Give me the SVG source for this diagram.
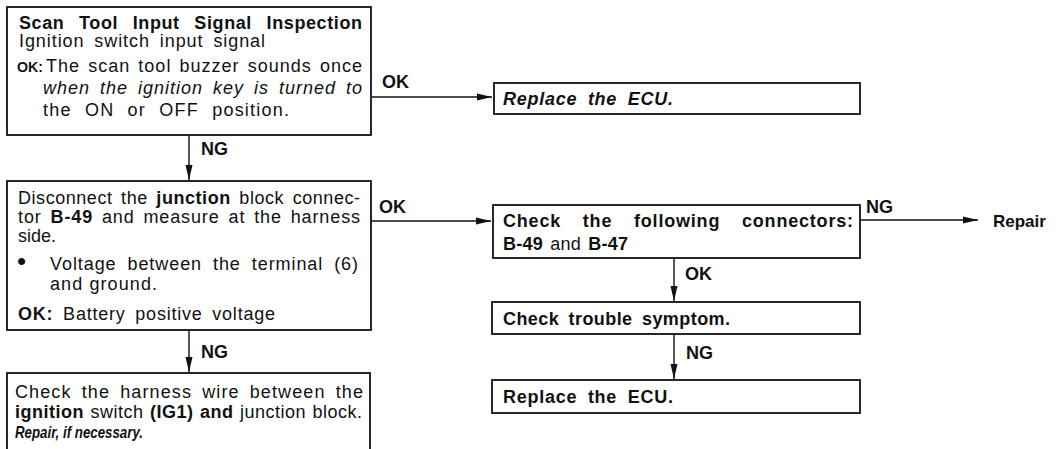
<svg xmlns="http://www.w3.org/2000/svg" width="1057" height="449" viewBox="0 0 1057 449">
<style>
  text { font-family: "Liberation Sans", Arial, Helvetica, sans-serif; fill: #111; }
  .box { fill: #fff; stroke: #111; stroke-width: 1.8; }
  .ln { fill: none; stroke: #111; stroke-width: 1.4; marker-end: url(#ah); }
  .lbl { font-size: 18px; font-weight: bold; }
  .b { font-weight: bold; }
  .i { font-style: italic; }
  .s18 { font-size: 18px; }
</style>
<defs>
  <marker id="ah" markerUnits="userSpaceOnUse" markerWidth="16" markerHeight="8" refX="15" refY="4" orient="auto">
    <path d="M0,0.5 L15,4 L0,7.5 Z" fill="#111"/>
  </marker>
</defs>
<rect width="1057" height="449" fill="#fff"/>

<g id="connectors">
  <line class="ln" x1="372" y1="97" x2="492" y2="97"/>
  <line class="ln" x1="189" y1="135" x2="189" y2="180"/>
  <line class="ln" x1="371" y1="221" x2="491" y2="221"/>
  <line class="ln" x1="189" y1="330" x2="189" y2="372"/>
  <line class="ln" x1="860" y1="220" x2="978" y2="220"/>
  <line class="ln" x1="674" y1="258" x2="674" y2="301"/>
  <line class="ln" x1="674" y1="334" x2="674" y2="379"/>
  <text class="lbl" x="382" y="88">OK</text>
  <text class="lbl" x="201" y="155">NG</text>
  <text class="lbl" x="379" y="213">OK</text>
  <text class="lbl" x="201" y="358">NG</text>
  <text class="lbl" x="866" y="213">NG</text>
  <text class="lbl" x="685" y="280">OK</text>
  <text class="lbl" x="686" y="359">NG</text>
</g>

<g id="node-scan-tool">
  <rect class="box" x="7" y="7" width="364" height="128"/>
  <text class="s18 b" x="19" y="29" word-spacing="9" textLength="343" lengthAdjust="spacing">Scan Tool Input Signal Inspection</text>
  <text class="s18" x="19" y="47" word-spacing="4" textLength="246" lengthAdjust="spacing">Ignition switch input signal</text>
  <text class="b" x="17" y="72" style="font-size:15px" textLength="26" lengthAdjust="spacingAndGlyphs">OK:</text>
  <text class="s18" x="46" y="72" word-spacing="2" textLength="316" lengthAdjust="spacing">The scan tool buzzer sounds once</text>
  <text class="s18 i" x="43" y="94" word-spacing="4" textLength="319" lengthAdjust="spacing">when the ignition key is turned to</text>
  <text class="s18" x="43" y="116" word-spacing="7" textLength="246" lengthAdjust="spacing">the ON or OFF position.</text>
</g>

<g id="node-replace-ecu-1">
  <rect class="box" x="494" y="83" width="366" height="31"/>
  <text class="s18 b i" x="503" y="105" word-spacing="5" textLength="170" lengthAdjust="spacing">Replace the ECU.</text>
</g>

<g id="node-junction-block">
  <rect class="box" x="7" y="181" width="364" height="149"/>
  <text class="s18" x="18" y="204" word-spacing="3" textLength="342" lengthAdjust="spacing">Disconnect the <tspan class="b">junction</tspan> block connec-</text>
  <text class="s18" x="18" y="223" word-spacing="3" textLength="342" lengthAdjust="spacing">tor <tspan class="b">B-49</tspan> and measure at the harness</text>
  <text class="s18" x="18" y="242">side.</text>
  <text x="17" y="270" style="font-size:26px">•</text>
  <text class="s18" x="50" y="270" word-spacing="5" textLength="308" lengthAdjust="spacing">Voltage between the terminal (6)</text>
  <text class="s18" x="50" y="290" textLength="107" lengthAdjust="spacing">and ground.</text>
  <text class="s18" x="18" y="320" word-spacing="4" textLength="257" lengthAdjust="spacing"><tspan class="b">OK:</tspan> Battery positive voltage</text>
</g>

<g id="node-harness-wire">
  <rect class="box" x="7" y="373" width="363" height="90"/>
  <text class="s18" x="15" y="398" word-spacing="4" textLength="348" lengthAdjust="spacing">Check the harness wire between the</text>
  <text class="s18" x="15" y="418" word-spacing="1" textLength="347" lengthAdjust="spacing"><tspan class="b">ignition</tspan> switch <tspan class="b">(IG1) and</tspan> junction block.</text>
  <text class="b i" x="15" y="438" style="font-size:17px" textLength="128" lengthAdjust="spacingAndGlyphs">Repair, if necessary.</text>
</g>

<g id="node-check-connectors">
  <rect class="box" x="493" y="205" width="367" height="53"/>
  <text class="s18 b" x="503" y="227" word-spacing="16" textLength="350" lengthAdjust="spacing">Check the following connectors:</text>
  <text class="s18" x="503" y="250" word-spacing="2" textLength="125" lengthAdjust="spacing"><tspan class="b">B-49</tspan> and <tspan class="b">B-47</tspan></text>
</g>

<g id="node-repair">
  <text class="b" x="993" y="227" style="font-size:17px">Repair</text>
</g>

<g id="node-trouble-symptom">
  <rect class="box" x="492" y="302" width="368" height="32"/>
  <text class="s18 b" x="503" y="325" word-spacing="4" textLength="227" lengthAdjust="spacing">Check trouble symptom.</text>
</g>

<g id="node-replace-ecu-2">
  <rect class="box" x="492" y="380" width="368" height="33"/>
  <text class="s18 b" x="503" y="403" word-spacing="5" textLength="170" lengthAdjust="spacing">Replace the ECU.</text>
</g>
</svg>
